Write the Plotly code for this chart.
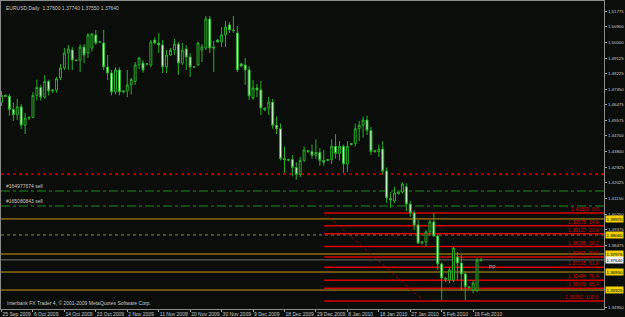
import plotly.graph_objects as go

# ---------------- data ----------------
opens = [1.4660, 1.4700, 1.4695, 1.4620, 1.4590, 1.4635, 1.4530, 1.4570, 1.4575, 1.4700,
         1.4745, 1.4690, 1.4780, 1.4725, 1.4730, 1.4799, 1.4856, 1.4941, 1.4958, 1.4901,
         1.4901, 1.4975, 1.4941, 1.4970, 1.5044, 1.5004, 1.4998, 1.4862, 1.4827, 1.4720,
         1.4845, 1.4720, 1.4725, 1.4760, 1.4780, 1.4873, 1.4884, 1.4879, 1.4873, 1.5015,
         1.4998, 1.4987, 1.4862, 1.4930, 1.4958, 1.4992, 1.4884, 1.4964, 1.4918, 1.4862,
         1.4873, 1.4958, 1.4970, 1.5135, 1.4975, 1.5015, 1.5004, 1.5044, 1.5101, 1.5072,
         1.5055, 1.4879, 1.4873, 1.4845, 1.4685, 1.4742, 1.4731, 1.4617, 1.4628, 1.4662,
         1.4530, 1.4510, 1.4340, 1.4330, 1.4335, 1.4290, 1.4250, 1.4330, 1.4385, 1.4380,
         1.4360, 1.4375, 1.4330, 1.4330, 1.4335, 1.4410, 1.4370, 1.4410, 1.4310, 1.4420,
         1.4425, 1.4510, 1.4530, 1.4560, 1.4500, 1.4385, 1.4380, 1.4395, 1.4270, 1.4113,
         1.4099, 1.4140, 1.4150, 1.4180, 1.4082, 1.4031, 1.3963, 1.3860, 1.3866, 1.3923,
         1.3980, 1.3900, 1.3741, 1.3660, 1.3649, 1.3649, 1.3780, 1.3746, 1.3684, 1.3606,
         1.3592, 1.3592, 1.3760]
highs = [1.4725, 1.4705, 1.4710, 1.4660, 1.4680, 1.4650, 1.4600, 1.4580, 1.4720, 1.4790,
         1.4760, 1.4815, 1.4790, 1.4735, 1.4805, 1.4879, 1.4970, 1.4987, 1.4975, 1.4905,
         1.4992, 1.4992, 1.5055, 1.5055, 1.5072, 1.5010, 1.5072, 1.4930, 1.4845, 1.4860,
         1.4860, 1.4730, 1.4845, 1.4800, 1.4890, 1.4920, 1.4900, 1.4885, 1.5015, 1.5030,
         1.5055, 1.5015, 1.4958, 1.4970, 1.5021, 1.5004, 1.4998, 1.4987, 1.4941, 1.4867,
         1.5004, 1.4992, 1.5152, 1.5152, 1.5010, 1.5020, 1.5089, 1.5123, 1.5118, 1.5152,
         1.5095, 1.4885, 1.4913, 1.4867, 1.4788, 1.4765, 1.4782, 1.4630, 1.4691, 1.4680,
         1.4580, 1.4540, 1.4410, 1.4340, 1.4360, 1.4320, 1.4350, 1.4410, 1.4390, 1.4420,
         1.4450, 1.4400, 1.4390, 1.4340, 1.4450, 1.4480, 1.4440, 1.4420, 1.4440, 1.4428,
         1.4540, 1.4555, 1.4580, 1.4585, 1.4520, 1.4390, 1.4420, 1.4440, 1.4290, 1.4150,
         1.4181, 1.4150, 1.4207, 1.4200, 1.4100, 1.4045, 1.3991, 1.3870, 1.3934, 1.3991,
         1.4031, 1.3910, 1.3750, 1.3665, 1.3718, 1.3837, 1.3808, 1.3791, 1.3700, 1.3615,
         1.3649, 1.3774, 1.3774]
lows = [1.4640, 1.4690, 1.4585, 1.4555, 1.4560, 1.4510, 1.4480, 1.4560, 1.4570, 1.4670,
        1.4670, 1.4680, 1.4700, 1.4715, 1.4715, 1.4788, 1.4845, 1.4845, 1.4845, 1.4895,
        1.4833, 1.4884, 1.4913, 1.4950, 1.4987, 1.4998, 1.4845, 1.4788, 1.4700, 1.4705,
        1.4700, 1.4710, 1.4690, 1.4705, 1.4760, 1.4850, 1.4830, 1.4870, 1.4860, 1.4990,
        1.4941, 1.4827, 1.4827, 1.4925, 1.4930, 1.4816, 1.4873, 1.4845, 1.4805, 1.4856,
        1.4867, 1.4890, 1.4958, 1.4941, 1.4833, 1.5000, 1.4975, 1.4975, 1.5055, 1.5055,
        1.4833, 1.4862, 1.4760, 1.4674, 1.4674, 1.4691, 1.4588, 1.4610, 1.4588, 1.4510,
        1.4480, 1.4330, 1.4260, 1.4325, 1.4240, 1.4220, 1.4235, 1.4320, 1.4375, 1.4340,
        1.4340, 1.4300, 1.4300, 1.4325, 1.4310, 1.4340, 1.4330, 1.4260, 1.4265, 1.4415,
        1.4410, 1.4440, 1.4460, 1.4475, 1.4360, 1.4375, 1.4350, 1.4250, 1.4088, 1.4060,
        1.4088, 1.4135, 1.4141, 1.4042, 1.4010, 1.3934, 1.3855, 1.3852, 1.3840, 1.3900,
        1.3895, 1.3707, 1.3536, 1.3638, 1.3632, 1.3638, 1.3649, 1.3592, 1.3536, 1.3600,
        1.3575, 1.3581, 1.3755]
closes = [1.4700, 1.4695, 1.4620, 1.4590, 1.4635, 1.4530, 1.4570, 1.4575, 1.4700, 1.4745,
          1.4690, 1.4780, 1.4725, 1.4730, 1.4795, 1.4856, 1.4941, 1.4964, 1.4901, 1.4898,
          1.4975, 1.4930, 1.5044, 1.5049, 1.4998, 1.5004, 1.4862, 1.4827, 1.4720, 1.4845,
          1.4720, 1.4725, 1.4760, 1.4790, 1.4873, 1.4913, 1.4845, 1.4879, 1.5004, 1.4998,
          1.4987, 1.4862, 1.4930, 1.4958, 1.4992, 1.4884, 1.4958, 1.4918, 1.4862, 1.4862,
          1.4998, 1.4975, 1.5135, 1.4970, 1.4970, 1.5004, 1.5044, 1.5089, 1.5072, 1.5070,
          1.4845, 1.4867, 1.4845, 1.4697, 1.4742, 1.4731, 1.4628, 1.4628, 1.4662, 1.4530,
          1.4510, 1.4340, 1.4335, 1.4335, 1.4290, 1.4250, 1.4330, 1.4390, 1.4380, 1.4360,
          1.4375, 1.4330, 1.4320, 1.4335, 1.4410, 1.4370, 1.4410, 1.4310, 1.4410, 1.4425,
          1.4510, 1.4530, 1.4560, 1.4500, 1.4380, 1.4380, 1.4395, 1.4270, 1.4116, 1.4105,
          1.4145, 1.4150, 1.4196, 1.4082, 1.4031, 1.3963, 1.3860, 1.3866, 1.3923, 1.3980,
          1.3900, 1.3741, 1.3661, 1.3655, 1.3706, 1.3831, 1.3746, 1.3684, 1.3612, 1.3609,
          1.3632, 1.3763, 1.3764]
bars = list(range(len(opens)))

date_label_bars = [0, 8, 16, 24, 32, 40, 48, 56, 64, 72, 80, 88, 96, 104, 112, 120]
date_labels = ["25 Sep 2009", "6 Oct 2009", "14 Oct 2009", "23 Oct 2009", "2 Nov 2009",
               "11 Nov 2009", "20 Nov 2009", "30 Nov 2009", "9 Dec 2009", "18 Dec 2009",
               "29 Dec 2009", "8 Jan 2010", "18 Jan 2010", "27 Jan 2010", "5 Feb 2010",
               "16 Feb 2010"]

# price scale labels (those hidden under the price boxes in the picture are left out)
price_ticks = [1.51775, 1.50900, 1.50000, 1.49125, 1.48225, 1.47350, 1.46475, 1.45575,
               1.44700, 1.43800, 1.42925, 1.42025, 1.41150, 1.40250, 1.39375, 1.38475,
               1.34950]

fib_ratios = [0.0, 14.6, 23.6, 38.2, 50.0, 61.8, 76.4, 85.4, 100.0]
fib_prices = [1.40309, 1.39578, 1.39127, 1.38396, 1.37806, 1.37215, 1.36484, 1.36033, 1.35302]
fib_start_bar = 82.1
fib_end_bar = 107.5

pivot_prices = [1.39970, 1.39060, 1.37975, 1.36950, 1.35925]
pivot_dotted = [False, True, False, False, False]
pp_price = 1.36950

bid_price = 1.37640
stop_price = 1.42527
order_labels = ["#164977674 sell", "#165080843 sell"]
order_prices = [1.41560, 1.40707]

title_text = "EURUSD,Daily  1.37600 1.37740 1.37550 1.37640"
footer_text = "Interbank FX Trader 4, \u00a9 2001-2009 MetaQuotes Software Corp."

# ---------------- styles ----------------
BG = "#0a0d0a"
GREEN = "#2aae2a"
BEAR_FILL = "#e6ffe6"
TXT = "#c8c8c8"
FONT = "Liberation Sans"
FS = 5
AX_FS = 4.4
X_RANGE = [-0.13, 153.3]
Y_RANGE = [1.34846, 1.52371]

fig = go.Figure()
fig.add_trace(go.Candlestick(
    x=bars, open=opens, high=highs, low=lows, close=closes,
    increasing=dict(line=dict(color=GREEN, width=1), fillcolor=BG),
    decreasing=dict(line=dict(color=GREEN, width=1), fillcolor=BEAR_FILL),
    whiskerwidth=0, hoverinfo="skip", showlegend=False,
))

shapes = []
for p, dotted in zip(pivot_prices, pivot_dotted):
    shapes.append(dict(type="line", xref="paper", x0=0, x1=1, yref="y", y0=p, y1=p,
                       line=dict(color="#8c8c50" if dotted else "#c89a10", width=1,
                                 dash="dot" if dotted else "solid"), layer="below"))
shapes.append(dict(type="line", xref="paper", x0=0, x1=1, yref="y", y0=bid_price, y1=bid_price,
                   line=dict(color="#707070", width=1), layer="below"))
shapes.append(dict(type="line", xref="paper", x0=0, x1=1, yref="y", y0=stop_price, y1=stop_price,
                   line=dict(color="#a00000", width=2, dash="dot"), layer="below"))
for p in order_prices:
    shapes.append(dict(type="line", xref="paper", x0=0, x1=1, yref="y", y0=p, y1=p,
                       line=dict(color="#1f8a1f", width=1, dash="dashdot"), layer="below"))
for p in fib_prices:
    shapes.append(dict(type="line", xref="x", x0=fib_start_bar, x1=X_RANGE[1], yref="y", y0=p, y1=p,
                       line=dict(color="#d80000", width=1.5), layer="below"))
shapes.append(dict(type="line", xref="x", yref="y", x0=fib_start_bar, y0=fib_prices[0],
                   x1=fib_end_bar, y1=fib_prices[-1],
                   line=dict(color="#a00000", width=1, dash="dot"), layer="below"))

ann = []
ann.append(dict(xref="paper", yref="paper", x=0, y=1, xanchor="left", yanchor="top",
                xshift=3, yshift=-2, text=title_text, showarrow=False,
                font=dict(family=FONT, size=FS, color=TXT)))
ann.append(dict(xref="paper", yref="paper", x=0, y=0, xanchor="left", yanchor="bottom",
                xshift=4, yshift=1, text=footer_text, showarrow=False,
                font=dict(family=FONT, size=FS, color=TXT)))
for t, p in zip(order_labels, order_prices):
    ann.append(dict(xref="paper", yref="y", x=0, y=p, xanchor="left", yanchor="bottom",
                    xshift=3, yshift=0, text=t, showarrow=False,
                    font=dict(family=FONT, size=FS, color=TXT)))
for r, p in zip(fib_ratios, fib_prices):
    ann.append(dict(xref="paper", yref="y", x=1, y=p, xanchor="right", yanchor="bottom",
                    xshift=-3, yshift=-1, text=f"{p:.5f}  {r:.1f}", showarrow=False,
                    font=dict(family=FONT, size=FS, color="#d00000")))
for p in pivot_prices:
    ann.append(dict(xref="paper", yref="y", x=1, y=p, xanchor="left", yanchor="middle",
                    xshift=1, text=f"{p:.5f}", showarrow=False, bgcolor="#f0d000",
                    borderpad=0.5, font=dict(family=FONT, size=AX_FS, color="#000000")))
ann.append(dict(xref="paper", yref="y", x=1, y=bid_price, xanchor="left", yanchor="middle",
                xshift=1, text=f"{bid_price:.5f}", showarrow=False, bgcolor="#f0f0f0",
                borderpad=0.5, font=dict(family=FONT, size=AX_FS, color="#000000")))
ann.append(dict(xref="x", yref="y", x=len(bars) + 0.5, y=pp_price, xanchor="left", yanchor="bottom",
                text="PP", showarrow=False, font=dict(family=FONT, size=FS, color="#a0a0a0")))

fig.update_layout(
    width=625, height=317,
    margin=dict(l=1, r=21, t=1, b=8, autoexpand=False),
    paper_bgcolor=BG, plot_bgcolor=BG,
    showlegend=False,
    shapes=shapes, annotations=ann,
    xaxis=dict(range=X_RANGE, showgrid=False, zeroline=False, automargin=False,
               tickvals=date_label_bars, ticktext=date_labels, tickangle=0,
               ticks="outside", ticklen=2, tickcolor="#a0a0a0",
               ticklabelposition="outside right",
               tickfont=dict(family=FONT, size=FS, color=TXT),
               showline=True, linecolor="#8a8a8a", linewidth=1, mirror=True,
               rangeslider=dict(visible=False), fixedrange=True),
    yaxis=dict(range=Y_RANGE, side="right", showgrid=False, zeroline=False, automargin=False,
               tickvals=price_ticks, ticktext=[f"{v:.5f}" for v in price_ticks],
               ticks="outside", ticklen=2, tickcolor="#a0a0a0", ticklabelstandoff=0,
               tickfont=dict(family=FONT, size=AX_FS, color=TXT),
               showline=True, linecolor="#8a8a8a", linewidth=1, mirror=True,
               fixedrange=True),
)

fig.write_html("out.html")
